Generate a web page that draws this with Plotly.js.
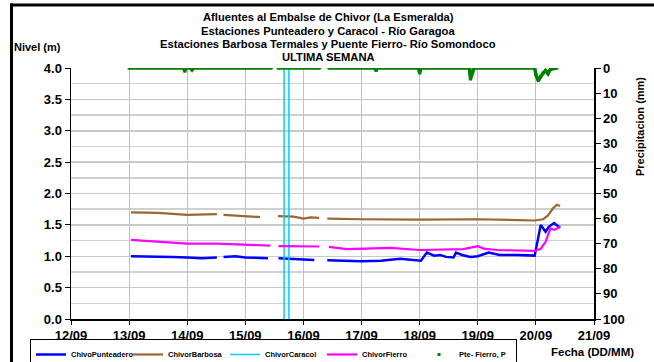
<!DOCTYPE html>
<html>
<head>
<meta charset="utf-8">
<script src="https://cdn.plot.ly/plotly-3.0.1.min.js"></script>
<style>html,body{margin:0;padding:0;background:#fff;}#chart{width:654px;height:362px;}</style>
</head>
<body>
<div id="chart"></div>
<script>
// ---- Data ----
const punteaderoDates = ['2010-09-13 00:45','2010-09-13 06:00','2010-09-13 12:00','2010-09-13 18:00','2010-09-14 00:00','2010-09-14 06:00','2010-09-14 12:15','2010-09-14 13:30','2010-09-14 15:00','2010-09-14 20:00','2010-09-15 00:00','2010-09-15 06:00','2010-09-15 09:20','2010-09-15 11:00','2010-09-15 13:40','2010-09-15 18:00','2010-09-16 00:00','2010-09-16 04:30','2010-09-16 07:00','2010-09-16 09:50','2010-09-16 19:00','2010-09-17 00:00','2010-09-17 08:00','2010-09-17 16:00','2010-09-18 00:30','2010-09-18 03:00','2010-09-18 06:00','2010-09-18 08:30','2010-09-18 11:00','2010-09-18 14:00','2010-09-18 15:00','2010-09-18 17:30','2010-09-18 21:00','2010-09-19 00:00','2010-09-19 04:30','2010-09-19 09:00','2010-09-19 16:00','2010-09-19 23:30','2010-09-20 02:00','2010-09-20 04:00','2010-09-20 05:20','2010-09-20 07:30','2010-09-20 10:00'];
const punteaderoValues = [1.00,1.00,1.00,0.99,0.98,0.97,0.98,null,0.99,1.00,0.98,0.97,0.97,null,0.97,0.96,0.94,0.94,null,0.935,0.93,0.92,0.93,0.96,0.93,1.06,1.01,1.02,0.99,0.98,1.06,1.02,0.99,1.00,1.06,1.02,1.02,1.01,1.50,1.39,1.47,1.53,1.455];

const barbosaDates = ['2010-09-13 00:45','2010-09-13 12:00','2010-09-14 00:00','2010-09-14 12:15','2010-09-14 13:30','2010-09-14 15:00','2010-09-15 00:00','2010-09-15 06:00','2010-09-15 09:00','2010-09-15 13:30','2010-09-15 20:00','2010-09-16 00:00','2010-09-16 03:00','2010-09-16 06:30','2010-09-16 08:00','2010-09-16 09:50','2010-09-17 00:00','2010-09-18 00:00','2010-09-19 00:00','2010-09-19 23:45','2010-09-20 03:00','2010-09-20 05:00','2010-09-20 07:00','2010-09-20 08:40','2010-09-20 10:00'];
const barbosaValues = [1.70,1.69,1.66,1.67,null,1.66,1.64,1.625,null,1.64,1.63,1.60,1.62,1.61,null,1.60,1.59,1.585,1.59,1.57,1.59,1.65,1.76,1.82,1.80];

const caracolDates = ['2010-09-15 16:00','2010-09-15 16:00','2010-09-15 18:00','2010-09-15 18:00'];
const caracolValues = [0, 6, 6, 0];

const fierroDates = ['2010-09-13 00:45','2010-09-13 12:00','2010-09-14 00:00','2010-09-14 12:00','2010-09-15 00:00','2010-09-15 10:20','2010-09-15 11:30','2010-09-15 13:40','2010-09-16 00:00','2010-09-16 06:30','2010-09-16 08:00','2010-09-16 10:30','2010-09-16 18:00','2010-09-17 12:00','2010-09-18 00:00','2010-09-18 18:00','2010-09-19 00:00','2010-09-19 02:30','2010-09-19 08:00','2010-09-19 23:30','2010-09-20 02:00','2010-09-20 04:00','2010-09-20 06:00','2010-09-20 07:40','2010-09-20 10:00'];
const fierroValues = [1.26,1.23,1.20,1.20,1.18,1.17,null,1.16,1.16,1.155,null,1.15,1.115,1.135,1.10,1.115,1.16,1.12,1.10,1.085,1.12,1.23,1.445,1.42,1.47];

const precipDates = ['2010-09-13 00:00','2010-09-13 22:30','2010-09-13 23:00','2010-09-13 23:30','2010-09-14 01:30','2010-09-14 02:00','2010-09-14 02:30','2010-09-15 10:45','2010-09-15 12:00','2010-09-15 13:30','2010-09-16 06:45','2010-09-16 08:00','2010-09-16 10:30','2010-09-17 05:30','2010-09-17 06:00','2010-09-17 06:30','2010-09-17 23:30','2010-09-18 00:00','2010-09-18 00:30','2010-09-18 20:30','2010-09-18 21:00','2010-09-18 22:00','2010-09-18 22:30','2010-09-19 23:30','2010-09-20 00:00','2010-09-20 01:00','2010-09-20 02:00','2010-09-20 03:00','2010-09-20 04:00','2010-09-20 05:00','2010-09-20 06:00','2010-09-20 08:40'];
const precipValues = [0,0,1.3,0,0,0.7,0,0,null,0,0,null,0,0,1,0,0,2,0,0,4.4,0.5,0,0,2.7,5,3.3,2,1,2.3,0.5,0];

const xTickVals = ['2010-09-12','2010-09-13','2010-09-14','2010-09-15','2010-09-16','2010-09-17','2010-09-18','2010-09-19','2010-09-20','2010-09-21'];
const xTickText = ['12/09','13/09','14/09','15/09','16/09','17/09','18/09','19/09','20/09','21/09'];

const titleLines = ['Afluentes al Embalse de Chivor (La Esmeralda)','Estaciones Punteadero y Caracol - Río Garagoa','Estaciones Barbosa Termales y Puente Fierro- Río Somondoco','ULTIMA SEMANA'];

// ---- Plot ----
const FONT = 'Liberation Sans, Arial, sans-serif';
const W = 654, H = 362, L = 71, R = 60, T = 68, B = 43;
const pw = W - L - R, ph = H - T - B;
const px = v => (v - L) / pw;
const py = v => (H - B - v) / ph;

const traces = [
  {x: punteaderoDates, y: punteaderoValues, name: 'ChivoPunteadero', mode: 'lines', line: {color: '#0000ff', width: 2.5}, connectgaps: false},
  {x: barbosaDates, y: barbosaValues, name: 'ChivorBarbosa', mode: 'lines', line: {color: '#9c6633', width: 2.2}, connectgaps: false},
  {x: caracolDates, y: caracolValues, name: 'ChivorCaracol', mode: 'lines', line: {color: '#00ccff', width: 1.5}},
  {x: fierroDates, y: fierroValues, name: 'ChivorFierro', mode: 'lines', line: {color: '#ff00ff', width: 2.2}, connectgaps: false},
  {x: precipDates, y: precipValues, name: 'Pte- Fierro, P', mode: 'lines', yaxis: 'y2', line: {color: '#008000', width: 3.5}, connectgaps: false, showlegend: false},
  {x: precipDates, y: precipValues, name: 'Pte- Fierro, P', mode: 'markers', yaxis: 'y2', marker: {color: '#008000', size: 3, symbol: 'square'}}
];

const titleY = [17, 31, 44, 57];
const titleAnnotations = titleLines.map((t, i) => ({
  text: '<b>' + t + '</b>', xref: 'paper', yref: 'paper', x: px(328), y: py(titleY[i]),
  xanchor: 'center', yanchor: 'middle', showarrow: false,
  font: {family: FONT, size: 11.2, color: '#000'}
}));

const layout = {
  width: W, height: H,
  margin: {l: L, r: R, t: T, b: B, autoexpand: false},
  paper_bgcolor: '#ffffff', plot_bgcolor: '#ffffff',
  font: {family: FONT, color: '#000'},
  showlegend: true,
  xaxis: {
    type: 'date', range: ['2010-09-12', '2010-09-21'],
    tickvals: xTickVals, ticktext: xTickText,
    tickfont: {family: FONT, size: 13, color: '#000', weight: 'bold'},
    showgrid: true, gridcolor: '#c0c0c0', gridwidth: 1,
    showline: true, linecolor: '#000', linewidth: 1.5,
    ticks: 'outside', ticklen: 4, tickcolor: '#000',
    zeroline: false, fixedrange: true
  },
  yaxis: {
    range: [0, 4], dtick: 0.5, tick0: 0, tickformat: '.1f',
    tickfont: {family: FONT, size: 13, color: '#000', weight: 'bold'},
    showgrid: true, gridcolor: '#c8c8c8', gridwidth: 1.5,
    minor: {dtick: 0.25, showgrid: true, gridcolor: '#d0d0d0', gridwidth: 1.5},
    showline: true, linecolor: '#000', linewidth: 1.5,
    ticks: 'outside', ticklen: 5, tickcolor: '#000',
    zeroline: false, fixedrange: true
  },
  yaxis2: {
    overlaying: 'y', side: 'right', range: [100, 0], dtick: 10, tick0: 0,
    tickfont: {family: FONT, size: 13, color: '#000', weight: 'bold'},
    showgrid: false, showline: true, linecolor: '#000', linewidth: 1.5,
    ticks: 'outside', ticklen: 5, tickcolor: '#000', zeroline: false, fixedrange: true
  },
  legend: {
    orientation: 'h', x: px(30), y: py(339), xanchor: 'left', yanchor: 'top',
    bordercolor: '#000', borderwidth: 1, bgcolor: 'rgba(255,255,255,0)',
    font: {family: FONT, size: 7.5, color: '#000', weight: 'bold'},
    entrywidth: 52, entrywidthmode: 'pixels', itemwidth: 30, tracegroupgap: 0
  },
  annotations: titleAnnotations.concat([
    {text: '<b>Nivel (m)</b>', xref: 'paper', yref: 'paper', x: px(12), y: py(47), xanchor: 'left', yanchor: 'middle', showarrow: false, font: {family: FONT, size: 11, color: '#000'}},
    {text: '<b>Precipitacion (mm)</b>', xref: 'paper', yref: 'paper', x: px(640), y: py(127), xanchor: 'center', yanchor: 'middle', textangle: -90, showarrow: false, font: {family: FONT, size: 11, color: '#000'}},
    {text: '<b>Fecha (DD/MM)</b>', xref: 'paper', yref: 'paper', x: px(636), y: py(352), xanchor: 'right', yanchor: 'middle', showarrow: false, font: {family: FONT, size: 11.5, color: '#000'}}
  ]),
  shapes: [
    {type: 'line', xref: 'paper', yref: 'paper', x0: px(10), x1: px(700), y0: py(5), y1: py(5), line: {color: '#000', width: 3}},
    {type: 'line', xref: 'paper', yref: 'paper', x0: px(11.5), x1: px(11.5), y0: py(3.5), y1: py(400), line: {color: '#000', width: 3}}
  ]
};

Plotly.newPlot('chart', traces, layout, {displayModeBar: false, staticPlot: true});
</script>
</body>
</html>
